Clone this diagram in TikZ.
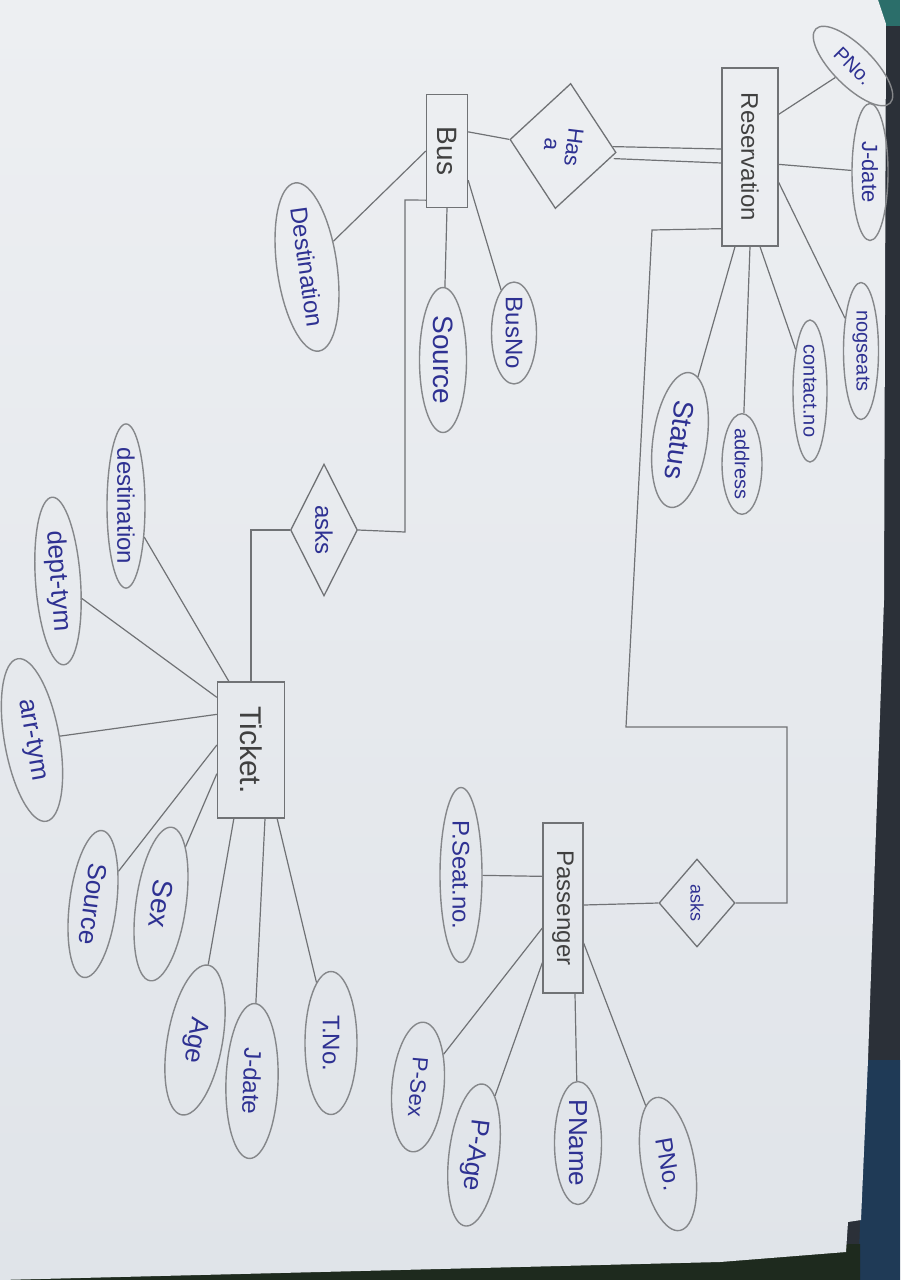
\documentclass[tikz,border=0pt]{standalone}
\usepackage{fontspec}
\setmainfont{Liberation Sans}
\usetikzlibrary{shapes.geometric,calc}
\definecolor{papertop}{HTML}{EDEFF2}
\definecolor{paperbot}{HTML}{E0E4E9}
\definecolor{pencil}{HTML}{707275}
\definecolor{ink}{HTML}{2E3192}
\definecolor{table}{HTML}{2B3038}
\definecolor{navy}{HTML}{1F3A56}
\definecolor{tealedge}{HTML}{2B6E6A}
\definecolor{greendark}{HTML}{1E2A1E}
\tikzset{
 fs/.style={font=\fontsize{#1}{#1}\selectfont},
 attr/.style={ellipse, draw=pencil!85, line width=1.4pt, inner sep=0pt, text=ink},
 ent/.style={rectangle, draw=pencil, line width=1.3pt, inner sep=0pt, text=black!75},
 rel/.style={diamond, draw=pencil, line width=1.3pt, inner sep=0pt, text=ink, align=center},
 conn/.style={draw=pencil, line width=1.2pt},
}
\begin{document}
\begin{tikzpicture}[x=1pt,y=-1pt]
\useasboundingbox (0,0) rectangle (900,1280);
% table behind the sheet
\fill[table] (0,0) rectangle (900,1280);
\fill[tealedge] (876,0) rectangle (900,26);
\fill[navy] (866,1060) -- (900,1060) -- (900,1280) -- (858,1280) -- cycle;
\fill[greendark] (0,1252) -- (860,1244) -- (860,1280) -- (0,1280) -- cycle;
% the sheet
\shade[top color=papertop, bottom color=paperbot]
  (0,0) -- (878,0) -- (886,24) -- (884,600) -- (868,1060) -- (861,1220)
  -- (848,1222) -- (846,1252) -- (720,1262) -- (0,1280) -- cycle;

% ---------- entities ----------
\node[ent, minimum width=56, minimum height=178, fs=24] (res) at (750,157) {\rotatebox{-90}{Reservation}};
\node[ent, minimum width=41, minimum height=113, fs=28] (bus) at (447,151) {\rotatebox{-90}{Bus}};
\node[ent, minimum width=67, minimum height=136, fs=30] (ticket) at (251,750) {\rotatebox{-90}{Ticket.}};
\node[ent, minimum width=40, minimum height=170, fs=24] (pass) at (563,908) {\rotatebox{-90}{Passenger}};

% ---------- relationships ----------
\node[rel, minimum width=126, minimum height=107, rotate=-97, fs=22] (has) at (563,146) {Has\\a};
\node[rel, minimum width=132, minimum height=66, rotate=-90, fs=24] (asks1) at (324,530) {asks};
\node[rel, minimum width=88, minimum height=76, rotate=-90, fs=18] (asks2) at (697,903) {asks};

% ---------- Reservation attributes ----------
\node[attr, minimum width=105, minimum height=40, rotate=-45, fs=20] (pno1) at (853,66) {PNo.};
\node[attr, minimum width=137, minimum height=36, rotate=-90, fs=22] (jdate1) at (870,172) {J-date};
\node[attr, minimum width=137, minimum height=35, rotate=-90, fs=20] (nog) at (861,351) {nogseats};
\node[attr, minimum width=142, minimum height=34, rotate=-90, fs=20] (contact) at (810,391) {contact.no};
\node[attr, minimum width=98, minimum height=40, rotate=-90, fs=20] (address) at (742,464) {address};
\node[attr, minimum width=136, minimum height=54, rotate=-98, fs=28] (status) at (680,440) {Status};

% ---------- Bus attributes ----------
\node[attr, minimum width=160, minimum height=60, rotate=-82, fs=24] (dest1) at (307,267) {Destination};
\node[attr, minimum width=145, minimum height=47, rotate=-90, fs=28] (src1) at (443,360) {Source};
\node[attr, minimum width=97, minimum height=45, rotate=-90, fs=24] (busno) at (514,333) {BusNo};

% ---------- Ticket attributes ----------
\node[attr, minimum width=162, minimum height=38, rotate=-90, fs=24] (dest2) at (126,506) {destination};
\node[attr, minimum width=168, minimum height=45, rotate=-86, fs=26] (dept) at (58,581) {dept-tym};
\node[attr, minimum width=165, minimum height=55, rotate=-80, fs=26] (arr) at (32,740) {arr-tym};
\node[attr, minimum width=148, minimum height=47, rotate=-97, fs=26] (src2) at (93,904) {Source};
\node[attr, minimum width=155, minimum height=50, rotate=-98, fs=28] (sex) at (161,904) {Sex};
\node[attr, minimum width=152, minimum height=55, rotate=-100, fs=26] (age) at (195,1040) {Age};
\node[attr, minimum width=155, minimum height=52, rotate=-92, fs=24] (jdate2) at (252,1081) {J-date};
\node[attr, minimum width=143, minimum height=52, rotate=-90, fs=24] (tno) at (331,1043) {T.No.};

% ---------- Passenger attributes ----------
\node[attr, minimum width=175, minimum height=42, rotate=-90, fs=24] (pseat) at (461,875) {P.Seat.no.};
\node[attr, minimum width=130, minimum height=52, rotate=-95, fs=22] (psex) at (418,1087) {P-Sex};
\node[attr, minimum width=143, minimum height=50, rotate=-97, fs=26] (page) at (474,1155) {P-Age};
\node[attr, minimum width=123, minimum height=47, rotate=-90, fs=26] (pname) at (578,1143) {PName};
\node[attr, minimum width=135, minimum height=53, rotate=-80, fs=24] (pno2) at (668,1164) {PNo.};

% ---------- connectors ----------
% Reservation
\draw[conn] (pno1) -- ($(res.north east)+(0,47)$);
\draw[conn] (jdate1) -- ($(res.north east)+(0,97)$);
\draw[conn] (nog) -- ($(res.north east)+(0,115)$);
\draw[conn] (contact) -- ($(res.south)+(10,0)$);
\draw[conn] (address) -- (res.south);
\draw[conn] (status) -- ($(res.south)+(-15,0)$);
% Bus -- Has a == Reservation
\draw[conn] ($(bus.north east)+(0,38)$) -- (has.south);
\draw[conn] ($(has.north)+(-4,-6)$) -- ($(res.west)+(0,-8)$);
\draw[conn] ($(has.north)+(-3,6)$) -- ($(res.west)+(0,6)$);
% Bus attributes
\draw[conn] (dest1) -- (bus.west);
\draw[conn] (src1) -- (bus.south);
\draw[conn] (busno) -- ($(bus.south east)+(0,-28)$);
% Bus -- asks -- Ticket
\draw[conn] ($(bus.south west)+(0,-8)$) -- (405,200) -- (405,532) -- (asks1.north);
\draw[conn] (asks1.south) -| (ticket.north);
% Ticket attributes
\draw[conn] (dest2) -- ($(ticket.north west)+(12,0)$);
\draw[conn] (dept) -- ($(ticket.north west)+(0,16)$);
\draw[conn] (arr) -- ($(ticket.north west)+(0,33)$);
\draw[conn] (src2) -- ($(ticket.west)+(0,-5)$);
\draw[conn] (sex) -- ($(ticket.south west)+(0,-45)$);
\draw[conn] (age) -- ($(ticket.south west)+(17,0)$);
\draw[conn] (jdate2) -- ($(ticket.south)+(14,0)$);
\draw[conn] (tno) -- ($(ticket.south east)+(-8,0)$);
% Reservation -- asks -- Passenger
\draw[conn] ($(res.south west)+(0,-18)$) -- (652,230) -- (626,727) -- (787,727) |- (asks2.north);
\draw[conn] ($(pass.east)+(0,-3)$) -- (asks2.south);
% Passenger attributes
\draw[conn] (pseat) -- ($(pass.north west)+(0,54)$);
\draw[conn] (psex) -- ($(pass.west)+(0,20)$);
\draw[conn] (page) -- ($(pass.south west)+(0,-31)$);
\draw[conn] (pname) -- ($(pass.south)+(12,0)$);
\draw[conn] (pno2) -- ($(pass.east)+(0,35)$);
\end{tikzpicture}
\end{document}
